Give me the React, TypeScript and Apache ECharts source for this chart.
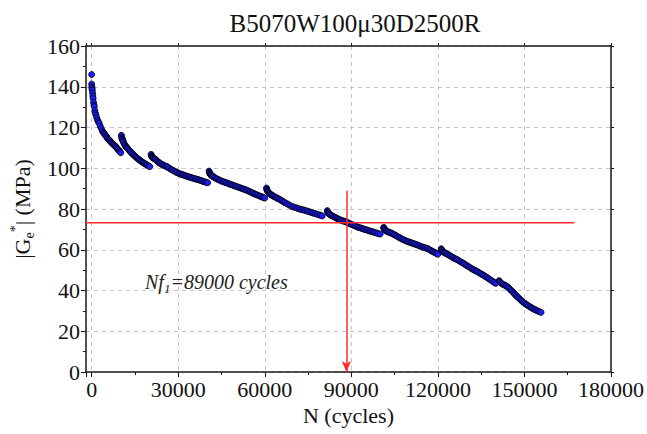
import React, { useEffect, useRef } from 'react';
import * as echarts from 'echarts';

const chartTitle = 'B5070W100μ30D2500R';
const xName = 'N (cycles)';
const xMin = -2000;
const xMax = 180000;
const xStep = 30000;
const yMin = 0;
const yMax = 160;
const yStep = 20;

// Measured |Ge*| (MPa) versus N (cycles), one array per loading block
const seg1: [number, number][] = [
  [0, 146], [0, 141.3], [60, 140], [120, 139.2], [200, 138.4], [300, 137], [400, 135.5], [500, 134.2],
  [650, 132.3], [800, 131], [900, 130.2], [1100, 128.3], [1300, 127], [1480, 126.1], [1750, 124.8],
  [2050, 123.6], [2300, 122.8], [2600, 122.1], [2950, 120.7], [3300, 119.5], [3700, 118.3], [4000, 117.6],
  [4330, 117.1], [4600, 116.5], [4900, 115.9], [5200, 115.3], [5500, 114.7], [5800, 114.2], [6100, 113.8],
  [6400, 113.3], [6630, 113], [6900, 112.5], [7200, 112.1], [7500, 111.7], [7800, 111.3], [8100, 110.9],
  [8350, 110.6], [8650, 110.1], [8900, 109.6], [9200, 109.1], [9500, 108.6], [9800, 108.1], [10070, 107.6],
];
const seg2: [number, number][] = [
  [10300, 116.2], [10400, 115.3], [10500, 114.6], [10600, 114.2], [10750, 113.9], [10900, 113.2],
  [11100, 112.5], [11400, 111.6], [11650, 111.1], [11900, 110.6], [12150, 110.2], [12400, 109.8],
  [12700, 109.3], [13000, 108.8], [13350, 108.2], [13700, 107.7], [14050, 107.2], [14400, 106.7],
  [14750, 106.2], [15100, 105.8], [15450, 105.3], [15800, 104.9], [16150, 104.5], [16500, 104.1],
  [16850, 103.7], [17200, 103.4], [17550, 103], [17900, 102.7], [18250, 102.4], [18600, 102.1],
  [18950, 101.8], [19300, 101.5], [19700, 101.1], [20130, 100.8],
];
const seg3: [number, number][] = [
  [20600, 106.8], [20700, 106.2], [20800, 105.8], [20950, 105.5], [21100, 105.2], [21300, 105],
  [21500, 104.8], [21800, 104.6], [22100, 104.4], [22450, 103.9], [22800, 103.4], [23150, 103],
  [23500, 102.6], [23900, 102.2], [24300, 101.9], [24750, 101.6], [25200, 101.3], [25650, 101],
  [26100, 100.8], [26550, 100.3], [27000, 99.9], [27500, 99.5], [28000, 99.1], [28500, 98.7],
  [29000, 98.3], [29500, 97.9], [30000, 97.6], [30450, 97.3], [30900, 97.1], [31350, 96.9],
  [31800, 96.7], [32250, 96.4], [32700, 96.2], [33150, 96], [33600, 95.8], [34050, 95.6],
  [34500, 95.4], [34950, 95.2], [35400, 95], [35900, 94.8], [36400, 94.6], [36850, 94.4],
  [37300, 94.2], [37750, 94], [38200, 93.8], [38700, 93.5], [39200, 93.3], [39700, 93.1], [40200, 92.9],
];
const seg4: [number, number][] = [
  [40700, 98.6], [40800, 98], [40900, 97.6], [41050, 97.2], [41200, 96.9], [41400, 96.6],
  [41600, 96.4], [41850, 96.1], [42100, 95.9], [42500, 95.5], [42900, 95.2], [43350, 94.8],
  [43800, 94.5], [44250, 94.2], [44700, 93.9], [45200, 93.6], [45700, 93.4], [46200, 93.1],
  [46700, 92.9], [47200, 92.6], [47700, 92.3], [48200, 92], [48700, 91.8], [49200, 91.5],
  [49700, 91.3], [50200, 91], [50700, 90.8], [51200, 90.5], [51700, 90.3], [52150, 90],
  [52600, 89.8], [53100, 89.5], [53600, 89.3], [54050, 89], [54500, 88.7], [54950, 88.4],
  [55400, 88.1], [55850, 87.8], [56300, 87.5], [56750, 87.2], [57200, 87], [57700, 86.7],
  [58200, 86.4], [58650, 86.1], [59100, 85.9], [59550, 85.6], [60000, 85.4],
];
const seg5: [number, number][] = [
  [60600, 90.3], [60700, 89.7], [60800, 89.2], [60950, 88.8], [61100, 88.4], [61300, 88.1],
  [61500, 87.8], [61750, 87.5], [62000, 87.2], [62350, 86.9], [62700, 86.6], [63050, 86.3],
  [63400, 86], [63800, 85.7], [64200, 85.4], [64600, 85.1], [65050, 84.8], [65500, 84.4],
  [66000, 84], [66500, 83.5], [67000, 83.1], [67650, 82.6], [68300, 82.1], [68950, 81.6],
  [69600, 81.1], [70200, 80.9], [70800, 80.6], [71400, 80.3], [72000, 80], [72550, 79.8],
  [73100, 79.6], [73650, 79.4], [74200, 79.2], [74750, 78.9], [75300, 78.7], [75850, 78.4],
  [76400, 78.2], [77000, 77.9], [77600, 77.7], [78200, 77.4], [78800, 77.1], [79350, 76.9], [79900, 76.6],
];
const seg6: [number, number][] = [
  [81650, 79.2], [81750, 78.7], [81900, 78.3], [82100, 77.9], [82300, 77.6], [82650, 77.2],
  [83000, 76.9], [83400, 76.6], [83800, 76.3], [84200, 76], [84600, 75.7], [85000, 75.4],
  [85400, 75.1], [85800, 74.8], [86200, 74.6], [86600, 74.4], [87000, 74.2], [87500, 74],
  [87950, 73.8], [88400, 73.5], [88900, 73.2], [89350, 72.9], [89800, 72.6], [90300, 72.3],
  [90800, 72], [91300, 71.7], [91800, 71.4], [92250, 71.1], [92700, 70.9], [93200, 70.7],
  [93650, 70.5], [94100, 70.2], [94600, 70], [95100, 69.8], [95600, 69.6], [96100, 69.3],
  [96600, 69.1], [97100, 68.9], [97600, 68.7], [98150, 68.4], [98700, 68.2], [99350, 67.9], [100000, 67.7],
];
const seg7: [number, number][] = [
  [101200, 71], [101300, 70.6], [101400, 70.2], [101600, 69.8], [101800, 69.5], [102100, 69.2],
  [102400, 69], [102800, 68.7], [103200, 68.5], [103600, 68.3], [104000, 68.1], [104500, 67.7],
  [105000, 67.3], [105500, 66.9], [106000, 66.5], [106500, 66.1], [107000, 65.7], [107500, 65.3],
  [108000, 65], [108500, 64.6], [109000, 64.3], [109500, 64], [110000, 63.8], [110450, 63.6],
  [110850, 63.4], [111300, 63.1], [111800, 62.9], [112300, 62.6], [112800, 62.4], [113300, 62.1],
  [113800, 61.8], [114300, 61.5], [114800, 61.3], [115250, 61.1], [115700, 60.9], [116150, 60.7],
  [116600, 60.5], [117050, 60.1], [117500, 59.7], [117950, 59.3], [118400, 59], [118800, 58.7],
  [119200, 58.4], [119600, 58.1], [120000, 57.8],
];
const seg8: [number, number][] = [
  [121150, 60.5], [121250, 60], [121400, 59.6], [121600, 59.3], [121800, 59], [122150, 58.7],
  [122500, 58.4], [122900, 58.1], [123300, 57.8], [123750, 57.4], [124200, 57.1], [124650, 56.7],
  [125100, 56.3], [125550, 55.9], [126000, 55.6], [126450, 55.3], [126900, 55], [127400, 54.5],
  [127900, 54.1], [128400, 53.7], [128900, 53.3], [129400, 52.8], [129900, 52.3], [130400, 51.9],
  [130900, 51.5], [131400, 51], [131900, 50.6], [132350, 50.2], [132800, 49.9], [133300, 49.5],
  [133800, 49.2], [134300, 48.7], [134800, 48.3], [135300, 47.9], [135800, 47.5], [136300, 47],
  [136800, 46.6], [137300, 46.1], [137800, 45.6], [138350, 45.1], [138900, 44.6], [139450, 44], [140050, 43.5],
];
const seg9: [number, number][] = [
  [141200, 44.8], [141400, 44.4], [141600, 44], [141950, 43.6], [142300, 43.2], [142750, 42.9],
  [143200, 42.6], [143650, 42.2], [144100, 41.9], [144550, 41.2], [145000, 40.6], [145450, 40],
  [145900, 39.4], [146300, 38.7], [146700, 38.1], [147100, 37.5], [147500, 37], [147950, 36.4],
  [148400, 35.8], [148850, 35.2], [149300, 34.6], [149700, 34.1], [150100, 33.7], [150500, 33.3],
  [150900, 32.9], [151350, 32.5], [151800, 32.1], [152250, 31.7], [152700, 31.3], [153200, 30.9],
  [153700, 30.6], [154200, 30.2], [154700, 29.9], [155200, 29.6], [155750, 29.3],
];
const segments = [seg1, seg2, seg3, seg4, seg5, seg6, seg7, seg8, seg9];

// Failure criterion annotation
const criterionG = 73.3;
const criterionEndN = 167300;
const nf1 = 88300;
const nf1ArrowTop = 89;
const nf1Label = '89000';

const FONT = 'Liberation Serif';
const RED = '#ff2b2b';

export default function App() {
  const ref = useRef<HTMLDivElement>(null);
  useEffect(() => {
    const chart = echarts.init(ref.current!, null, { renderer: 'svg' });
    const gridLeft = 85;
    const gridRight = 32;
    const gridTop = 46;
    const gridBottom = 62;

    const xCommon = {
      type: 'value',
      min: xMin,
      max: xMax,
      splitNumber: 6,
      minInterval: xStep,
      maxInterval: xStep,
    };
    const yCommon = {
      type: 'value',
      min: yMin,
      max: yMax,
      interval: yStep,
    };
    const lineCol = '#1a1a1a';

    const dataSeries: any[] = [];
    segments.forEach((seg, i) => {
      // the first two readings of the test are isolated dots, not part of the dense band
      const bandData = i === 0 ? seg.slice(2) : seg;
      dataSeries.push({
        type: 'line',
        name: 'band' + i,
        data: bandData,
        symbol: 'none',
        lineStyle: { color: '#000020', width: 3 },
        z: 2,
        silent: true,
      });
      dataSeries.push({
        type: 'scatter',
        name: 'seg' + i,
        data: seg,
        symbol: 'circle',
        symbolSize: 6,
        itemStyle: { color: '#1c1cff', borderColor: '#000000', borderWidth: 0.8, opacity: 1 },
        z: 3,
        silent: true,
      });
    });

    chart.setOption({
      animation: false,
      backgroundColor: '#ffffff',
      title: {
        text: chartTitle,
        left: gridLeft + (647 - gridLeft - gridRight) / 2,
        textAlign: 'center',
        top: 6,
        textStyle: { fontFamily: FONT, fontSize: 25, fontWeight: 'normal', color: '#111' },
      },
      grid: {
        left: gridLeft,
        right: gridRight,
        top: gridTop,
        bottom: gridBottom,
        show: false,
      },
      xAxis: [
        {
          ...xCommon,
          position: 'bottom',
          name: xName,
          nameLocation: 'middle',
          nameGap: 31,
          nameTextStyle: { fontFamily: FONT, fontSize: 22, color: '#111' },
          axisLine: { show: true, onZero: false, lineStyle: { color: lineCol, width: 1.5 } },
          axisTick: { show: true, inside: false, length: 5, lineStyle: { color: lineCol, width: 1 } },
          minorTick: { show: true, splitNumber: 2, length: 3, lineStyle: { color: lineCol, width: 1 } },
          axisLabel: {
            fontFamily: FONT,
            fontSize: 22,
            color: '#111',
            margin: 6,
            hideOverlap: false,
            formatter: (v: number) => (v < 0 ? '' : String(v)),
          },
          splitLine: { show: true, lineStyle: { color: '#c4c4c4', type: [4, 4], width: 1 } },
        },
        {
          ...xCommon,
          position: 'top',
          axisLine: { show: true, onZero: false, lineStyle: { color: lineCol, width: 1.5 } },
          axisTick: { show: true, inside: false, length: 3, lineStyle: { color: lineCol, width: 1 } },
          minorTick: { show: false },
          axisLabel: { show: false },
          splitLine: { show: false },
        },
      ],
      yAxis: [
        {
          ...yCommon,
          position: 'left',
          name: '{a||G}{sub|e}{sup|*}{a|| (MPa)}',
          nameLocation: 'middle',
          nameRotate: 90,
          nameGap: 44,
          nameTextStyle: {
            fontFamily: FONT,
            fontSize: 22,
            color: '#111',
            rich: {
              a: { fontFamily: FONT, fontSize: 22, color: '#111', lineHeight: 28 },
              sub: { fontFamily: FONT, fontSize: 14, color: '#111', lineHeight: 16, verticalAlign: 'bottom' },
              sup: { fontFamily: FONT, fontSize: 14, color: '#111', lineHeight: 16, verticalAlign: 'top' },
            },
          },
          axisLine: { show: true, onZero: false, lineStyle: { color: lineCol, width: 1.5 } },
          axisTick: { show: true, inside: false, length: 5, lineStyle: { color: lineCol, width: 1 } },
          minorTick: { show: true, splitNumber: 2, length: 3, lineStyle: { color: lineCol, width: 1 } },
          axisLabel: { fontFamily: FONT, fontSize: 22, color: '#111', margin: 6 },
          splitLine: { show: true, lineStyle: { color: '#c4c4c4', type: [4, 4], width: 1 } },
        },
        {
          ...yCommon,
          position: 'right',
          axisLine: { show: true, onZero: false, lineStyle: { color: lineCol, width: 1.5 } },
          axisTick: { show: true, inside: false, length: 3, lineStyle: { color: lineCol, width: 1 } },
          minorTick: { show: false },
          axisLabel: { show: false },
          splitLine: { show: false },
        },
      ],
      graphic: [
        {
          type: 'text',
          left: 145,
          top: 272,
          z: 10,
          style: {
            text: '{a|Nf}{s|1}{a|=' + nf1Label + ' cycles}',
            rich: {
              a: { fontFamily: FONT, fontSize: 20, fontStyle: 'italic', fill: '#222', lineHeight: 26 },
              s: { fontFamily: FONT, fontSize: 13, fontStyle: 'italic', fill: '#222', lineHeight: 14, verticalAlign: 'bottom' },
            },
          },
        },
      ],
      series: [
        ...dataSeries,
        {
          type: 'line',
          name: 'criterion',
          data: [
            [xMin, criterionG],
            [criterionEndN, criterionG],
          ],
          symbol: 'none',
          lineStyle: { color: RED, width: 1.5 },
          z: 5,
          silent: true,
          markLine: {
            silent: true,
            symbol: ['none', 'arrow'],
            symbolSize: [7, 11],
            label: { show: false },
            lineStyle: { color: RED, width: 1.5, type: 'solid' },
            data: [[{ coord: [nf1, nf1ArrowTop] }, { coord: [nf1, yMin] }]],
          },
        },
      ],
    });
    return () => chart.dispose();
  }, []);
  return (
    <div
      ref={ref}
      style={{ position: 'fixed', left: 0, top: 0, width: 647, height: 434, background: '#fff' }}
    />
  );
}
